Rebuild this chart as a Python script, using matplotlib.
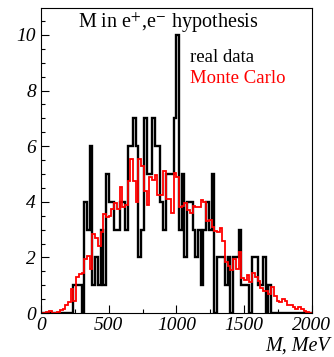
import numpy as np
import matplotlib
matplotlib.use("Agg")
import matplotlib.pyplot as plt

plt.rcParams['font.family'] = ['Liberation Serif', 'DejaVu Serif']
plt.rcParams['mathtext.fontset'] = 'stix'

# 20 MeV bins from 0 to 2000
bin_edges = np.arange(0, 2001, 20)

# real data counts per bin
real_data = [0, 0, 0, 0, 0, 0, 0, 0, 0, 0, 0, 0,
             1, 1, 1, 0, 4, 3, 6, 1, 2, 1,
             3, 1, 5, 4, 4, 3, 3, 4, 4, 3,
             6, 6, 7, 6, 2, 3, 7, 5, 5, 7,
             6, 6, 4, 3, 5, 5, 5, 7, 10, 3,
             5, 2, 4, 4, 3, 2, 3, 1, 3, 4,
             3, 5, 0, 2, 2, 2, 1, 2, 0, 2,
             2, 3, 1, 1, 1, 0, 2, 2, 1, 1,
             2, 0, 1,
             0, 0, 0, 0, 0, 0, 0, 0, 0, 0, 0, 0, 0, 0, 0]

# Monte Carlo, normalised
monte_carlo = [0, 0, 0.05, 0.08, 0, 0, 0.05, 0.1, 0.15, 0.3,
               0.4, 0.85, 0.45, 1.3, 1.4, 1.45, 1.95, 2.05, 1.6, 2.85,
               2.7, 2.4, 2.9, 3.55, 3.45, 3.5, 3.75, 3.95, 3.75, 4.55,
               3.8, 3.9, 4.75, 5.55, 4.75, 4.0, 5.55, 5.3, 4.4, 3.9,
               4.9, 4.8, 4.95, 4.25, 4.25, 5.1, 4.1, 4.1, 3.6, 5.05,
               4.9, 3.8, 3.85, 3.95, 3.7, 3.6, 3.85, 3.8, 3.8, 4.05,
               4.0, 3.3, 3.35, 3.1, 2.95, 2.9, 3.05, 2.6, 1.85, 1.7,
               1.55, 1.95, 1.6, 2.2, 1.25, 1.2, 1.35, 1.1, 1.45, 1.3,
               1.15, 0.9, 0.8, 0.78, 0.7, 0.92, 0.6, 0.45, 0.38, 0.5,
               0.45, 0.3, 0.3, 0.2, 0.15, 0.22, 0.15, 0.08, 0.04, 0]

fig = plt.figure(figsize=(3.34, 3.57), dpi=100)
ax = fig.add_axes([0.1228, 0.1232, 0.8104, 0.8544])

ax.stairs(real_data, bin_edges, color='black', lw=1.7)
ax.stairs(monte_carlo, bin_edges, color='red', lw=1.3)

ax.set_xlim(0, 2000)
ax.set_ylim(0, 10.97)
ax.set_xticks([0, 500, 1000, 1500, 2000])
ax.set_xticks(np.arange(0, 2001, 250), minor=True)
ax.set_yticks([0, 2, 4, 6, 8, 10])
ax.set_yticks(np.arange(0, 11, 0.5), minor=True)
ax.tick_params(which='both', direction='in', top=False, right=False)
ax.tick_params(which='major', length=6, width=0.8)
ax.tick_params(which='minor', length=3, width=0.8)
ax.tick_params(axis='x', pad=3)
for lab in ax.get_xticklabels() + ax.get_yticklabels():
    lab.set_fontsize(14)
    lab.set_fontstyle('italic')

ax.text(0.137, 0.934, r'M in e$^{+}$,e$^{-}$ hypothesis', transform=ax.transAxes, fontsize=14.5)
ax.text(0.55, 0.823, 'real data', transform=ax.transAxes, fontsize=13.5)
ax.text(0.55, 0.754, 'Monte Carlo', transform=ax.transAxes, fontsize=13.5, color='red')

fig.text(0.988, 0.004, 'M, MeV', ha='right', va='bottom', fontsize=14.5, fontstyle='italic')

fig.savefig("out.png", dpi=100)
